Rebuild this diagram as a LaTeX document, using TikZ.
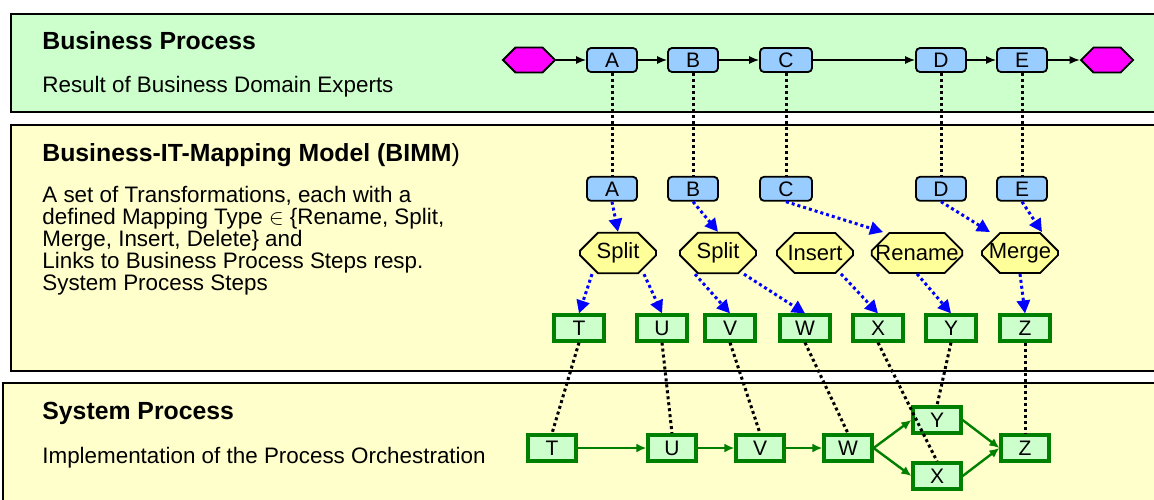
\documentclass[tikz,border=0pt]{standalone}
\usepackage{fontspec}
\setmainfont{Liberation Sans}
\usepackage{tikz}
\usetikzlibrary{arrows.meta,positioning,shapes.misc,shapes.symbols}

\definecolor{bpgreen}{HTML}{CCFFCC}
\definecolor{mapyellow}{HTML}{FFFFCC}
\definecolor{stepblue}{HTML}{99CCFF}
\definecolor{trafoyellow}{HTML}{FFFF99}
\definecolor{sysgreen}{HTML}{008000}
\definecolor{endmagenta}{HTML}{FF00FF}

\begin{document}
\begin{tikzpicture}[
    x=0.5pt, y=-0.5pt,
    font=\fontsize{10.5}{12}\selectfont,
    panel/.style={draw, line width=1.2pt},
    heading/.style={anchor=base west, inner sep=0pt, font=\fontsize{12.4}{14}\selectfont\bfseries},
    desc/.style={anchor=base west, inner sep=0pt, align=left, font=\fontsize{11.2}{10.9}\selectfont},
    bstep/.style={draw, line width=0.9pt, rounded corners=2pt, fill=stepblue, minimum width=25pt, minimum height=12pt, inner sep=0pt},
    term/.style={draw, line width=0.9pt, fill=endmagenta, signal, signal to=east and west, minimum width=26pt, minimum height=12.5pt, inner sep=0pt},
    trafo/.style={draw, line width=0.9pt, fill=trafoyellow, chamfered rectangle, chamfered rectangle xsep=4pt, chamfered rectangle ysep=5pt, minimum width=38pt, minimum height=20pt, inner xsep=-2pt, inner ysep=0pt, font=\fontsize{11}{12}\selectfont},
    sstep/.style={draw=sysgreen, line width=1.6pt, fill=bpgreen, minimum width=24pt, minimum height=13pt, inner sep=0pt},
    flow/.style={-{Latex[length=5pt,width=4pt]}, line width=0.7pt},
    link/.style={line width=1.5pt, dash pattern=on 1.5pt off 1.5pt},
    map/.style={blue, line width=1.5pt, dash pattern=on 1.5pt off 1.5pt, -{Triangle[length=6.5pt,width=6.5pt]}},
    sflow/.style={sysgreen, line width=1.2pt, -{Latex[length=5pt,width=4.5pt]}}
]
\clip (0,0) rectangle (1154,499);
\fill[white] (0,0) rectangle (1154,499);

% the three layers
\draw[panel, fill=bpgreen] (11,14) rectangle (1170,112);
\draw[panel, fill=mapyellow] (11,125) rectangle (1170,371);
\draw[panel, fill=mapyellow] (3,383) rectangle (1170,510);

\node[heading] (bptitle) at (42,49) {Business Process};
\node[desc] (bpdesc) at (42,92) {Result of Business Domain Experts};
\node[heading] (mmtitle) at (42,161) {Business-IT-Mapping Model (BIMM\textmd{)}};
% base of a multi-line node sits on its last line
\node[desc] (mmdesc) at (42,290) {A set of Transformations, each with a\\defined Mapping Type $\in$ \{Rename, Split,\\Merge, Insert, Delete\} and\\Links to Business Process Steps resp.\\System Process Steps};
\node[heading] (sptitle) at (42,419) {System Process};
\node[desc] (spdesc) at (42,463) {Implementation of the Process Orchestration};

% business process
\node[term] (bstart) at (529,60) {};
\node[bstep] (bA) at (612,60) {A};
\node[bstep] (bB) at (693,60) {B};
\node[bstep, minimum width=26pt] (bC) at (786,60) {C};
\node[bstep] (bD) at (941,60) {D};
\node[bstep] (bE) at (1022,60) {E};
\node[term] (bend) at (1107,60) {};

% mapping model
\node[bstep, below=51.5pt of bA] (mA) {A};
\node[bstep, below=51.5pt of bB] (mB) {B};
\node[bstep, below=51.5pt of bC, minimum width=26pt] (mC) {C};
\node[bstep, below=51.5pt of bD] (mD) {D};
\node[bstep, below=51.5pt of bE] (mE) {E};

\node[trafo] (split1) at (618,253) {Split};
\node[trafo] (split2) at (718,253) {Split};
\node[trafo] (insert) at (815,253) {Insert};
\node[trafo] (rename) at (917,253) {Rename};
\node[trafo] (merge) at (1020,253) {Merge};

\node[sstep, minimum width=25pt] (tT) at (579,328) {T};
\node[sstep, minimum width=25pt] (tU) at (662,328) {U};
\node[sstep, minimum width=25pt] (tV) at (730,328) {V};
\node[sstep, minimum width=25pt] (tW) at (805,328) {W};
\node[sstep, minimum width=25pt] (tX) at (878,328) {X};
\node[sstep, minimum width=25pt] (tY) at (951,328) {Y};
\node[sstep, minimum width=25pt] (tZ) at (1025,328) {Z};

% system process
\node[sstep] (sT) at (552,448) {T};
\node[sstep] (sU) at (672,448) {U};
\node[sstep] (sV) at (760,448) {V};
\node[sstep] (sW) at (848,448) {W};
\node[sstep] (sY) at (937,420) {Y};
\node[sstep] (sX) at (937,476) {X};
\node[sstep] (sZ) at (1025,448) {Z};

\foreach \a/\b in {bstart/bA, bA/bB, bB/bC, bC/bD, bD/bE, bE/bend}
    \draw[flow] (\a) -- (\b);

\foreach \s in {A,B,C,D,E}
    \draw[link] (b\s.south) -- (m\s.north);

\draw[map] (mA.south) -- (split1.north);
\draw[map] (mB.south) -- (split2.north);
\draw[map] (mC.south) -- ([xshift=-17pt]rename.north);
\draw[map] (mD.south) -- ([xshift=-15pt]merge.north);
\draw[map] (mE.south) -- ([xshift=11pt]merge.north);
\draw[map] ([xshift=-13pt]split1.south) -- (tT.north);
\draw[map] ([xshift=13pt]split1.south) -- (tU.north);
\draw[map] ([xshift=-11.5pt]split2.south) -- (tV.north);
\draw[map] ([xshift=13pt]split2.south) -- (tW.north);
\draw[map] ([xshift=13pt]insert.south) -- (tX.north);
\draw[map] (rename.south) -- (tY.north);
\draw[map] (merge.south) -- (tZ.north);

\foreach \a/\b in {sT/sU, sU/sV, sV/sW}
    \draw[sflow] (\a) -- (\b);
\draw[sflow] (sW.east) -- (sY.west);
\draw[sflow] (sW.east) -- (sX.west);
\draw[sflow] (sY.east) -- (sZ.west);
\draw[sflow] (sX.east) -- (sZ.west);

\foreach \s in {T,U,V,W,X,Y,Z}
    \draw[link] (t\s.south) -- (s\s.north);
\end{tikzpicture}
\end{document}
